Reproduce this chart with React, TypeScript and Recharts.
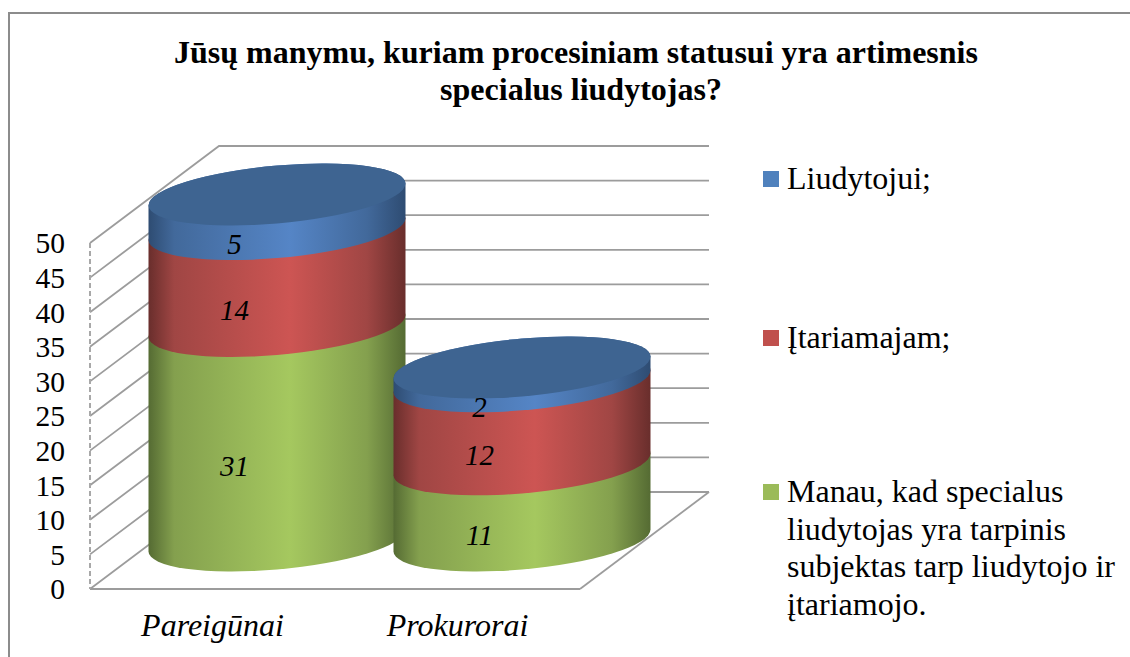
import React from "react";
import { BarChart, Bar, XAxis, YAxis, CartesianGrid, Legend, LabelList } from "recharts";

const categories = ["Pareigūnai", "Prokurorai"];
const manauValues = [31, 11];
const itariamajamValues = [14, 12];
const liudytojuiValues = [5, 2];
const yTicks = [0, 5, 10, 15, 20, 25, 30, 35, 40, 45, 50];
const titleLines = [
  "Jūsų manymu, kuriam procesiniam statusui yra artimesnis",
  "specialus liudytojas?",
];
const seriesNames = {
  liudytojui: "Liudytojui;",
  itariamajam: "Įtariamajam;",
  manau: "Manau, kad specialus liudytojas yra tarpinis subjektas tarp liudytojo ir įtariamojo.",
};
const manauLines = [
  "Manau, kad specialus",
  "liudytojas yra tarpinis",
  "subjektas tarp liudytojo ir",
  "įtariamojo.",
];

const table = categories.map((name, i) => ({
  name,
  manau: manauValues[i],
  itariamajam: itariamajamValues[i],
  liudytojui: liudytojuiValues[i],
}));

const W = 1130;
const H = 657;
const FONT = "'Liberation Serif', 'Times New Roman', serif";
const GRID = "#9c9c9c";
const DEPTH_X = 129;
const DEPTH_Y = 97;
const RX = 128.5;
const RY = 29;
const SHEAR = 0.085;

const makeShape = (gradId: string, capFill?: string) => (props: any) => {
  const { x, y, width, height } = props;
  const cx = x + width / 2 + DEPTH_X / 2;
  const by = y + height - DEPTH_Y / 2;
  const h = height;
  const d = `M ${-RX} 0 A ${RX} ${RY} 0 0 0 ${RX} 0 L ${RX} ${-h} A ${RX} ${RY} 0 0 0 ${-RX} ${-h} Z`;
  return (
    <g transform={`matrix(1 ${-SHEAR} 0 1 ${cx} ${by})`}>
      <path d={d} fill={`url(#${gradId})`} />
      {capFill ? <ellipse cx={0} cy={-h} rx={RX} ry={RY} fill={capFill} /> : null}
    </g>
  );
};

const gridLine = (p: any) => {
  const { x1, x2, y1, y, height, index } = p;
  const isFloor = Math.abs(y1 - (y + height)) < 0.5;
  const pts = `${x1},${y1} ${x1 + DEPTH_X},${y1 - DEPTH_Y} ${x2 + DEPTH_X},${y1 - DEPTH_Y}`;
  return (
    <g key={`g${index}`}>
      <polyline points={pts} fill="none" stroke={GRID} strokeWidth={1.8} />
      {isFloor ? (
        <line x1={x2} y1={y1} x2={x2 + DEPTH_X} y2={y1 - DEPTH_Y} stroke={GRID} strokeWidth={1.8} />
      ) : null}
    </g>
  );
};

const valueLabel = (p: any) => {
  const { x, y, width, height, value } = p;
  return (
    <text
      x={x + width / 2 + 22}
      y={y + height / 2 - 16}
      textAnchor="middle"
      dominantBaseline="central"
      fontFamily={FONT}
      fontStyle="italic"
      fontSize={29}
      fill="#000"
    >
      {value}
    </text>
  );
};

const legendRows: Record<string, { top: number; lines?: string[] }> = {
  liudytojui: { top: 160 },
  itariamajam: { top: 319 },
  manau: { top: 473, lines: manauLines },
};

const legendContent = (props: any) => (
  <div style={{ position: "relative", width: 0, height: 0 }}>
    {props.payload.map((item: any) => {
      const row = legendRows[item.dataKey];
      return (
        <div key={item.dataKey}>
          <div
            style={{
              position: "absolute",
              left: 763,
              top: row.top + 11,
              width: 16,
              height: 16,
              background: item.color,
            }}
          />
          <div
            style={{
              position: "absolute",
              left: 787,
              top: row.top,
              width: 340,
              fontFamily: FONT,
              fontSize: 32,
              lineHeight: "37.5px",
              color: "#000",
              whiteSpace: "nowrap",
            }}
          >
            {(row.lines ?? [item.value]).map((t: string) => (
              <div key={t}>{t}</div>
            ))}
          </div>
        </div>
      );
    })}
  </div>
);

const grad = (id: string, dark: string, mid: string, light: string) => (
  <linearGradient id={id} x1="0" y1="0" x2="1" y2="0">
    <stop offset="0%" stopColor={dark} />
    <stop offset="10%" stopColor={mid} />
    <stop offset="55%" stopColor={light} />
    <stop offset="85%" stopColor={mid} />
    <stop offset="100%" stopColor={dark} />
  </linearGradient>
);

export default function App() {
  return (
    <div style={{ position: "absolute", left: 0, top: 0, width: W, height: H, background: "#fff" }}>
      <BarChart
        width={W}
        height={H}
        data={table}
        barCategoryGap={0}
        margin={{ top: 243, right: 550, bottom: 38, left: 50 }}
      >
        <defs>
          {grad("gradBlue", "#2e4c72", "#42699b", "#5585c6")}
          {grad("gradRed", "#692e2c", "#a04644", "#cd5553")}
          {grad("gradGreen", "#556b33", "#84a04e", "#a5c85f")}
        </defs>
        <path d="M 9 657 L 9 13 L 1130 13" fill="none" stroke="#8c8c8c" strokeWidth={2} />
        <text textAnchor="middle" fontFamily={FONT} fontWeight="bold" fontSize={32} fill="#000">
          <tspan x={576} y={63}>{titleLines[0]}</tspan>
          <tspan x={581} y={100}>{titleLines[1]}</tspan>
        </text>
        <CartesianGrid vertical={false} horizontal={gridLine} />
        <XAxis
          dataKey="name"
          tickLine={false}
          axisLine={{ stroke: GRID, strokeWidth: 2 }}
          tickMargin={18}
          tick={{ fontFamily: FONT, fontStyle: "italic", fontSize: 32, fill: "#000" }}
        />
        <YAxis
          domain={[0, 50]}
          ticks={yTicks}
          interval={0}
          width={40}
          tickLine={false}
          axisLine={{ stroke: "#a8a8a8", strokeWidth: 2, strokeDasharray: "5 3" }}
          tickMargin={19}
          tick={{ fontFamily: FONT, fontSize: 29.5, fill: "#000" }}
        />
        <Legend
          layout="vertical"
          align="right"
          verticalAlign="top"
          wrapperStyle={{ left: 0, top: 0, right: "auto", width: 0, height: 0 }}
          content={legendContent}
        />
        <Bar
          dataKey="manau"
          name={seriesNames.manau}
          stackId="a"
          fill="#9bbb59"
          isAnimationActive={false}
          shape={makeShape("gradGreen")}
        >
          <LabelList dataKey="manau" content={valueLabel} />
        </Bar>
        <Bar
          dataKey="itariamajam"
          name={seriesNames.itariamajam}
          stackId="a"
          fill="#c0504d"
          isAnimationActive={false}
          shape={makeShape("gradRed")}
        >
          <LabelList dataKey="itariamajam" content={valueLabel} />
        </Bar>
        <Bar
          dataKey="liudytojui"
          name={seriesNames.liudytojui}
          stackId="a"
          fill="#4f81bd"
          isAnimationActive={false}
          shape={makeShape("gradBlue", "#3e6491")}
        >
          <LabelList dataKey="liudytojui" content={valueLabel} />
        </Bar>
      </BarChart>
    </div>
  );
}
